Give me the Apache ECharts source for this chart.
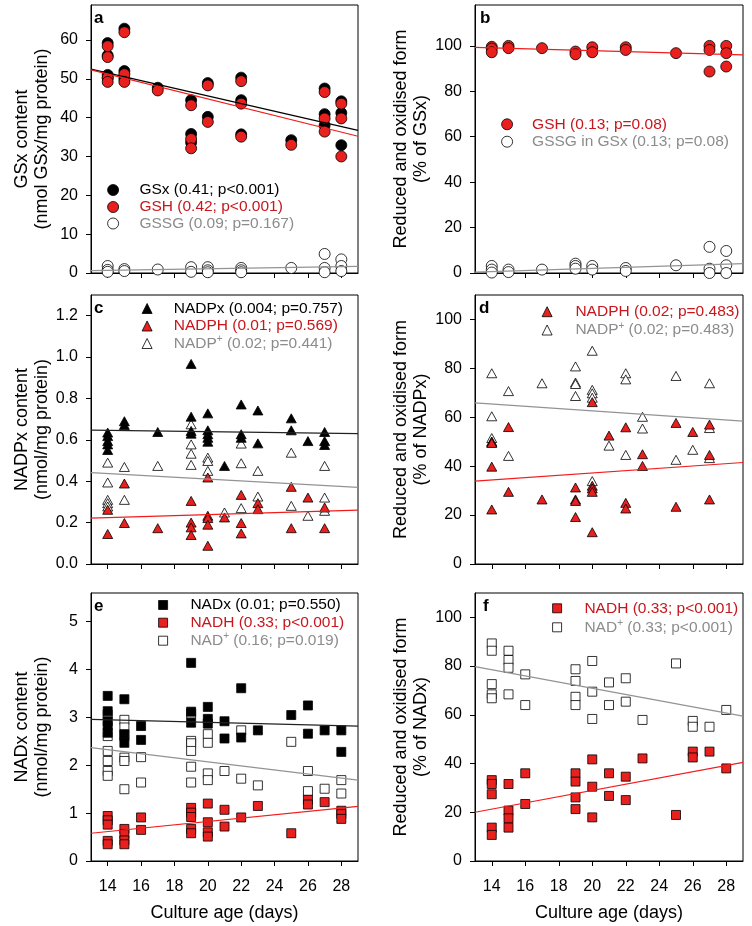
<!DOCTYPE html>
<html>
<head>
<meta charset="utf-8">
<script src="https://cdn.jsdelivr.net/npm/echarts@6/dist/echarts.min.js"></script>
<style>
  html, body { margin: 0; padding: 0; background: #fff; }
  #chart { width: 752px; height: 926px; }
</style>
</head>
<body>
<div id="chart"></div>
<script>
// ---- data: [culture age (days), value] ----
const dayTicks = [14, 16, 18, 20, 22, 24, 26, 28];

// a: GSx content
const gsx = [[14,59.2],[14,56.0],[14,51.0],[14,50.2],[15,62.9],[15,52.0],[15,50.0],[17,47.7],
  [19,44.5],[19,35.8],[19,33.6],[20,48.9],[20,40.2],[22,50.3],[22,44.5],[22,35.7],[25,34.2],
  [27,47.5],[27,40.9],[27,38.0],[28,44.2],[28,41.2],[28,32.9]];
const gsh = [[14,58.4],[14,55.6],[14,50.3],[14,49.2],[15,62.0],[15,51.2],[15,49.2],[17,47.0],
  [19,43.2],[19,34.5],[19,32.1],[20,48.3],[20,38.9],[22,49.4],[22,43.6],[22,35.1],[25,33.0],
  [27,46.6],[27,39.8],[27,36.4],[28,43.6],[28,39.8],[28,30.0]];
const gssg = [[14,1.8],[14,0.8],[14,0.3],[15,1.0],[15,0.5],[17,0.9],[19,1.5],[19,0.3],
  [20,1.5],[20,0.7],[20,0.2],[22,1.3],[22,0.7],[22,0.2],[25,1.3],[27,4.9],[27,1.3],[27,0.2],
  [28,3.5],[28,1.8],[28,0.5]];
const gsxFit = [52.5, 36.7];
const gshFit = [52.3, 35.2];
const gssgFit = [0.6, 1.7];

// b: % of GSx
const gshPct = [[14,99.6],[14,98.8],[14,97.2],[15,100],[15,99.0],[17,99.0],[19,97.5],[19,96.3],
  [20,99.4],[20,97.2],[22,99.4],[22,98.2],[25,96.8],[27,100],[27,98.2],[27,88.7],
  [28,100],[28,96.8],[28,90.9]];
const gssgPct = [[14,3.1],[14,1.5],[14,0.2],[15,1.5],[15,0.4],[17,1.5],[19,4.1],[19,3.1],[19,1.9],
  [20,3.1],[20,1.5],[22,2.2],[22,0.9],[25,3.4],[27,11.5],[27,1.9],[27,0],[28,9.7],[28,3.4],[28,0]];
const gshPctFit = [99.3, 96.0];
const gssgPctFit = [0.4, 4.1];

// c: NADPx content
const nadpx = [[14,0.635],[14,0.618],[14,0.594],[14,0.578],[14,0.551],[15,0.69],[15,0.672],
  [17,0.638],[19,0.967],[19,0.712],[19,0.643],[19,0.63],[20,0.728],[20,0.646],[20,0.627],
  [20,0.61],[20,0.591],[21,0.474],[22,0.771],[22,0.627],[22,0.61],[23,0.742],[23,0.583],
  [25,0.704],[25,0.646],[26,0.594],[27,0.638],[27,0.594],[27,0.575]];
const nadph = [[14,0.262],[14,0.145],[15,0.389],[15,0.198],[17,0.173],[19,0.305],[19,0.2],
  [19,0.177],[19,0.14],[20,0.418],[20,0.233],[20,0.222],[20,0.19],[20,0.088],[21,0.225],
  [22,0.334],[22,0.198],[22,0.148],[23,0.294],[23,0.265],[25,0.373],[25,0.173],[26,0.321],
  [27,0.273],[27,0.173]];
const nadp = [[14,0.49],[14,0.394],[14,0.31],[14,0.294],[14,0.278],[15,0.469],[15,0.31],
  [17,0.474],[19,0.675],[19,0.578],[19,0.533],[19,0.479],[20,0.514],[20,0.498],[20,0.45],
  [21,0.249],[22,0.582],[22,0.487],[22,0.27],[23,0.45],[23,0.326],[25,0.538],[25,0.281],
  [26,0.233],[27,0.474],[27,0.321],[27,0.257]];
const nadpxFit = [0.647, 0.63];
const nadphFit = [0.222, 0.26];
const nadpFit = [0.442, 0.37];

// d: % of NADPx
const nadphPct = [[14,49.9],[14,49.5],[14,39.8],[14,22.3],[15,56.0],[15,29.5],[17,26.4],
  [19,31.3],[19,26.4],[19,25.8],[19,19.2],[20,66.2],[20,32.0],[20,30.9],[20,29.5],[20,13.0],
  [21,52.5],[22,55.9],[22,25.0],[22,22.7],[23,44.9],[23,40.1],[25,57.7],[25,23.4],[26,54.0],
  [27,57.0],[27,44.6],[27,26.4]];
const nadpPct = [[14,78.0],[14,60.4],[14,51.5],[14,50.1],[15,70.7],[15,44.2],[17,73.9],
  [19,80.8],[19,74.2],[19,73.6],[19,68.7],[20,87.2],[20,71.2],[20,69.8],[20,68.0],[20,33.9],
  [21,48.4],[22,78.0],[22,75.5],[22,44.6],[23,60.2],[23,55.4],[25,76.9],[25,42.6],[26,46.7],
  [27,73.9],[27,55.6],[27,43.3]];
const nadphPctFit = [33.9, 41.5];
const nadpPctFit = [65.9, 58.4];

// e: NADx content
const nadx = [[14,3.45],[14,3.13],[14,2.92],[14,2.82],[14,2.68],[15,3.38],[15,2.65],[15,2.47],
  [16,2.82],[16,2.53],[19,4.14],[19,3.12],[19,2.89],[20,3.22],[20,2.97],[20,2.87],[21,2.92],
  [21,2.56],[22,3.61],[22,2.58],[23,2.73],[25,3.05],[26,3.25],[26,2.66],[27,2.73],
  [28,2.73],[28,2.28]];
const nadh = [[14,0.94],[14,0.85],[14,0.76],[14,0.42],[14,0.35],[15,0.67],[15,0.56],[15,0.43],
  [15,0.35],[16,0.91],[16,0.65],[19,1.11],[19,1.01],[19,0.92],[19,0.67],[19,0.58],[20,1.2],
  [20,0.81],[20,0.6],[20,0.51],[21,1.07],[21,0.72],[22,0.91],[23,1.15],[25,0.58],[26,1.28],
  [26,1.18],[27,1.23],[28,1.05],[28,0.98],[28,0.88]];
const nad = [[14,3.06],[14,2.61],[14,2.30],[14,2.09],[14,1.88],[14,1.78],[15,2.95],[15,2.79],
  [15,2.61],[15,2.16],[15,2.09],[15,1.5],[16,2.17],[16,1.64],[19,3.08],[19,2.51],[19,2.46],
  [19,2.3],[19,1.97],[19,1.64],[20,2.65],[20,2.47],[20,1.83],[20,1.69],[21,1.88],[22,2.73],
  [22,1.72],[23,1.58],[25,2.49],[26,1.88],[26,1.46],[27,1.51],[28,1.69],[28,1.41]];
const nadxFit = [2.96, 2.82];
const nadhFit = [0.58, 1.14];
const nadFit = [2.37, 1.69];

// f: % of NADx
const nadhPct = [[14,33.2],[14,31.6],[14,27.4],[14,13.7],[14,10.7],[15,31.6],[15,20.7],[15,17.5],
  [15,13.7],[16,36.0],[16,23.4],[19,36.0],[19,32.6],[19,26.1],[19,21.3],[20,41.7],[20,30.5],
  [20,17.9],[21,36.0],[21,26.7],[22,34.6],[22,25.0],[23,42.1],[25,18.9],[26,44.9],[26,42.5],
  [27,44.9],[28,38.0]];
const nadPct = [[14,89.3],[14,86.3],[14,72.6],[14,68.4],[14,66.8],[15,86.3],[15,82.5],[15,79.3],
  [15,68.4],[16,76.6],[16,64.0],[19,78.7],[19,73.9],[19,67.4],[19,64.0],[20,82.1],[20,69.5],
  [20,58.3],[21,73.3],[21,64.0],[22,75.0],[22,65.4],[23,57.9],[25,81.1],[26,57.5],[26,55.1],
  [27,55.1],[28,62.0]];
const nadhPctFit = [20.0, 40.5];
const nadPctFit = [79.8, 59.5];

// ---- styling ----
const FONT = '"Liberation Sans", Arial, sans-serif';
const RED = '#e8201e';
const RED_TXT = '#c8161c';
const GREY = '#8c8c8c';
const LINE_RED = '#f21c1c';
const LINE_GREY = '#939393';

const grids = [
  { left: 91, top: 5, width: 267, height: 268 },
  { left: 475, top: 5, width: 268, height: 268 },
  { left: 91, top: 295, width: 267, height: 269 },
  { left: 475, top: 295, width: 268, height: 269 },
  { left: 91, top: 593, width: 267, height: 268 },
  { left: 475, top: 593, width: 268, height: 268 }
];

const yDefs = [
  { max: 69, ticks: [0, 10, 20, 30, 40, 50, 60], name: 'GSx content\n(nmol GSx/mg protein)', gap: 39 },
  { max: 118, ticks: [0, 20, 40, 60, 80, 100], name: 'Reduced and oxidised form\n(% of GSx)', gap: 33 },
  { max: 1.3, ticks: [0, 0.2, 0.4, 0.6, 0.8, 1.0, 1.2], name: 'NADPx content\n(nmol/mg protein)', gap: 39, dec: 1 },
  { max: 110, ticks: [0, 20, 40, 60, 80, 100], name: 'Reduced and oxidised form\n(% of NADPx)', gap: 33 },
  { max: 5.6, ticks: [0, 1, 2, 3, 4, 5], name: 'NADx content\n(nmol/mg protein)', gap: 39 },
  { max: 110, ticks: [0, 20, 40, 60, 80, 100], name: 'Reduced and oxidised form\n(% of NADx)', gap: 33 }
];

const axisLine = { show: true, lineStyle: { color: '#000', width: 1 } };

const xAxes = grids.map((g, i) => ({
  type: 'value', gridIndex: i, min: 13, max: 29,
  axisLine: axisLine,
  axisTick: { show: true, length: 5, customValues: dayTicks, lineStyle: { color: '#000' } },
  axisLabel: { show: i >= 4, customValues: dayTicks, fontSize: 16, color: '#000', fontFamily: FONT, margin: 18 },
  splitLine: { show: false },
  name: i >= 4 ? 'Culture age (days)' : '',
  nameLocation: 'middle', nameGap: 43,
  nameTextStyle: { fontSize: 18, color: '#000', fontFamily: FONT }
}));

const yAxes = yDefs.map((d, i) => ({
  type: 'value', gridIndex: i, min: 0, max: d.max,
  axisLine: axisLine,
  axisTick: { show: true, length: 5, customValues: d.ticks, lineStyle: { color: '#000' } },
  axisLabel: {
    customValues: d.ticks, fontSize: 16, color: '#000', fontFamily: FONT, margin: 13,
    formatter: v => d.dec ? v.toFixed(d.dec) : String(v)
  },
  splitLine: { show: false },
  name: d.name, nameLocation: 'middle', nameRotate: 90, nameGap: d.gap,
  nameTextStyle: { fontSize: 18, color: '#000', fontFamily: FONT, lineHeight: 20 }
}));

function pts(name, data, panel, symbol, color, size) {
  return {
    type: 'scatter', name: name, data: data,
    xAxisIndex: panel, yAxisIndex: panel,
    symbol: symbol, symbolSize: size,
    itemStyle: { color: color, borderColor: '#000', borderWidth: 0.8, opacity: 1 },
    z: 2, silent: true
  };
}

function fit(ends, panel, color) {
  return {
    type: 'line', data: [[13, ends[0]], [29, ends[1]]],
    xAxisIndex: panel, yAxisIndex: panel,
    symbol: 'none', lineStyle: { color: color, width: 1.2 },
    z: 3, silent: true
  };
}

const CIRC = 11, TRI = [10, 9], SQ = 9;

const series = [
  pts('GSx (0.41; p<0.001)', gsx, 0, 'circle', '#000', CIRC),
  pts('GSH (0.42; p<0.001)', gsh, 0, 'circle', RED, CIRC),
  pts('GSSG (0.09; p=0.167)', gssg, 0, 'circle', '#fff', CIRC),
  fit(gsxFit, 0, '#000'), fit(gshFit, 0, LINE_RED), fit(gssgFit, 0, LINE_GREY),

  pts('GSH (0.13; p=0.08)', gshPct, 1, 'circle', RED, CIRC),
  pts('GSSG in GSx (0.13; p=0.08)', gssgPct, 1, 'circle', '#fff', CIRC),
  fit(gshPctFit, 1, LINE_RED), fit(gssgPctFit, 1, LINE_GREY),

  pts('NADP+ (0.02; p=0.441)', nadp, 2, 'triangle', '#fff', TRI),
  pts('NADPx (0.004; p=0.757)', nadpx, 2, 'triangle', '#000', TRI),
  pts('NADPH (0.01; p=0.569)', nadph, 2, 'triangle', RED, TRI),
  fit(nadpxFit, 2, '#222'), fit(nadphFit, 2, LINE_RED), fit(nadpFit, 2, LINE_GREY),

  pts('NADP+ (0.02; p=0.483)', nadpPct, 3, 'triangle', '#fff', TRI),
  pts('NADPH (0.02; p=0.483)', nadphPct, 3, 'triangle', RED, TRI),
  fit(nadphPctFit, 3, LINE_RED), fit(nadpPctFit, 3, LINE_GREY),

  pts('NAD+ (0.16; p=0.019)', nad, 4, 'rect', '#fff', SQ),
  pts('NADx (0.01; p=0.550)', nadx, 4, 'rect', '#000', SQ),
  pts('NADH (0.33; p<0.001)', nadh, 4, 'rect', RED, SQ),
  fit(nadxFit, 4, '#222'), fit(nadhFit, 4, LINE_RED), fit(nadFit, 4, LINE_GREY),

  pts('NAD+ (0.33; p<0.001)', nadPct, 5, 'rect', '#fff', SQ),
  pts('NADH (0.33; p<0.001) ', nadhPct, 5, 'rect', RED, SQ),
  fit(nadhPctFit, 5, LINE_RED), fit(nadPctFit, 5, LINE_GREY)
];

// legend rows: [series name, text colour, symbol centre x, text start x, row centre y, icon size]
const legendRows = [
  ['GSx (0.41; p<0.001)', '#000', 112.7, 139, 190, 11],
  ['GSH (0.42; p<0.001)', RED_TXT, 112.7, 139, 207, 11],
  ['GSSG (0.09; p=0.167)', GREY, 112.7, 139, 223.5, 11],
  ['GSH (0.13; p=0.08)', RED_TXT, 506.7, 531.7, 124.3, 11],
  ['GSSG in GSx (0.13; p=0.08)', GREY, 506.7, 531.7, 141.7, 11],
  ['NADPx (0.004; p=0.757)', '#000', 146.7, 173.3, 308.5, 10],
  ['NADPH (0.01; p=0.569)', RED_TXT, 146.7, 173.3, 326, 10],
  ['NADP+ (0.02; p=0.441)', GREY, 146.7, 173.3, 343.5, 10],
  ['NADPH (0.02; p=0.483)', RED_TXT, 546.7, 575, 311.7, 10],
  ['NADP+ (0.02; p=0.483)', GREY, 546.7, 575, 330, 10],
  ['NADx (0.01; p=0.550)', '#000', 162.7, 190, 605, 9],
  ['NADH (0.33; p<0.001)', RED_TXT, 162.7, 190, 622.7, 9],
  ['NAD+ (0.16; p=0.019)', GREY, 162.7, 190, 640.7, 9],
  ['NADH (0.33; p<0.001) ', RED_TXT, 556.7, 584, 608.3, 9],
  ['NAD+ (0.33; p<0.001)', GREY, 556.7, 584, 627.3, 9]
];

const LEG_H = 18;
const legends = legendRows.map(r => {
  const s = r[5];
  const pad = r[3] - (r[2] + s / 2) - 5;
  return {
    data: [{ name: r[0], textStyle: { color: r[1] } }],
    left: r[2] - s / 2, top: r[4] - LEG_H / 2,
    orient: 'vertical', padding: 0,
    itemWidth: s, itemHeight: s,
    itemStyle: { borderWidth: 0.8, borderColor: '#000' },
    selectedMode: false,
    textStyle: {
      fontSize: 15.5, fontFamily: FONT, color: r[1], lineHeight: LEG_H,
      padding: [0, 0, 0, pad],
      rich: {
        g: { fontSize: 15.5, fontFamily: FONT, color: GREY, lineHeight: LEG_H },
        s: { fontSize: 10, fontFamily: FONT, color: GREY, verticalAlign: 'top', lineHeight: 12 }
      }
    },
    formatter: name => {
      const m = name.match(/^(NADP?)\+(.*)$/);
      return m ? '{g|' + m[1] + '}{s|+}{g| ' + m[2].trim() + '}' : name.trim();
    }
  };
});

const letters = [['a', 94, 10], ['b', 480, 10], ['c', 94, 300], ['d', 479, 300], ['e', 94, 598], ['f', 483, 598]];
const titles = letters.map(l => ({
  text: l[0], left: l[1], top: l[2], padding: 0,
  textStyle: { fontSize: 17, fontWeight: 'bold', color: '#000', fontFamily: FONT }
}));

const chart = echarts.init(document.getElementById('chart'));
chart.setOption({
  animation: false,
  backgroundColor: '#fff',
  title: titles,
  grid: grids.map(g => Object.assign({ show: true, borderColor: '#000', borderWidth: 1, containLabel: false }, g)),
  xAxis: xAxes,
  yAxis: yAxes,
  legend: legends,
  series: series
});
</script>
</body>
</html>
